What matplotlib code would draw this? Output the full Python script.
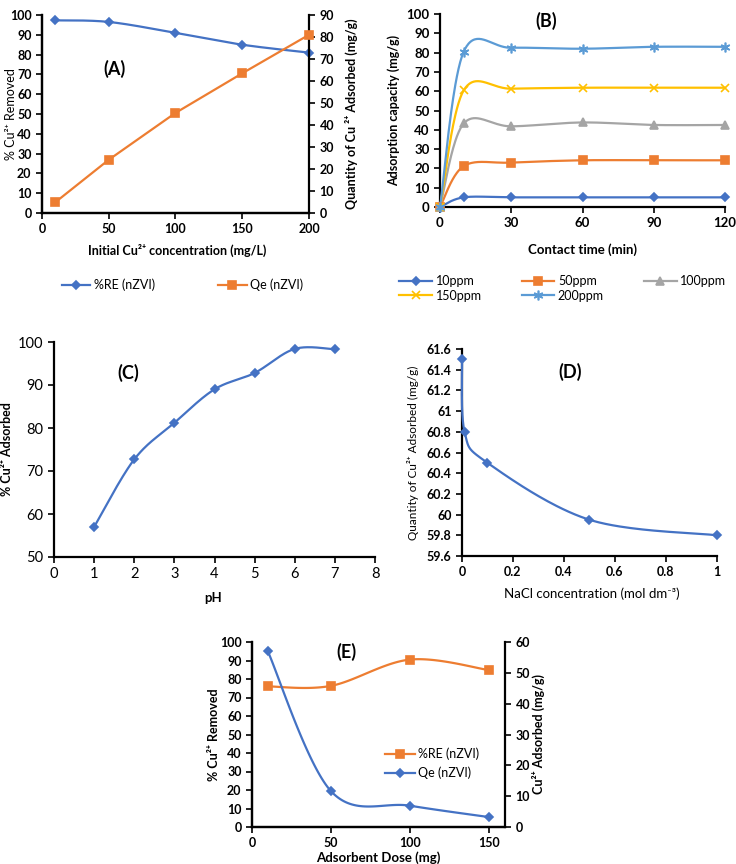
import matplotlib

matplotlib.use("Agg")
import matplotlib.pyplot as plt
import numpy as np
from matplotlib.lines import Line2D
from matplotlib.ticker import FuncFormatter

plt.rcParams["font.family"] = ["Lato", "DejaVu Sans"]
plt.rcParams["axes.linewidth"] = 1.6

BLUE = "#4472C4"
ORANGE = "#ED7D31"
GRAY = "#A5A5A5"
YELLOW = "#FFC000"
LIGHT_BLUE = "#5B9BD5"

# (A) effect of initial concentration
A_CONC = [10, 50, 100, 150, 200]
A_REMOVAL = [97.3, 96.5, 91.0, 85.0, 81.0]
A_QE = [4.9, 24.2, 45.5, 63.5, 81.0]

# (B) contact time
B_TIME = [0, 10, 30, 60, 90, 120]
B_10PPM = [0, 5.0, 5.0, 5.0, 5.0, 5.0]
B_50PPM = [0, 21.2, 23.0, 24.2, 24.2, 24.2]
B_100PPM = [0, 43.3, 41.8, 43.8, 42.5, 42.5]
B_150PPM = [0, 60.5, 61.3, 61.8, 61.8, 61.8]
B_200PPM = [0, 80.5, 82.5, 82.0, 83.0, 83.0]
B_LABELS = ["10ppm", "50ppm", "100ppm", "150ppm", "200ppm"]

# (C) pH
C_PH = [1, 2, 3, 4, 5, 6, 7]
C_ADSORBED = [57.0, 72.7, 81.2, 89.0, 92.8, 98.4, 98.3]

# (D) ionic strength
D_NACL = [0, 0.01, 0.1, 0.5, 1.0]
D_QE = [61.5, 60.8, 60.5, 59.95, 59.8]

# (E) adsorbent dose
E_DOSE = [10, 50, 100, 150]
E_REMOVAL = [76.0, 76.3, 90.5, 84.8]
E_QE = [57.0, 11.6, 6.9, 3.2]

W, H = 736, 864
fig = plt.figure(figsize=(W / 100, H / 100), dpi=100)


def add_axes_px(left, top, right, bottom):
    return fig.add_axes([left / W, 1 - bottom / H, (right - left) / W, (bottom - top) / H])


def smooth_curve(ax, x, y, n=40):
    # Excel-like smoothed line: bezier through points, computed in screen space
    pts = ax.transData.transform(np.column_stack([x, y]))
    m = len(pts)
    out = [pts[0]]
    t = np.linspace(0, 1, n)[1:, None]
    for i in range(m - 1):
        p0 = pts[i - 1] if i > 0 else pts[i]
        p1, p2 = pts[i], pts[i + 1]
        p3 = pts[i + 2] if i + 2 < m else pts[i + 1]
        c1 = p1 + (p2 - p0) / 6
        c2 = p2 - (p3 - p1) / 6
        seg = (1 - t) ** 3 * p1 + 3 * (1 - t) ** 2 * t * c1 + 3 * (1 - t) * t ** 2 * c2 + t ** 3 * p2
        out.extend(seg)
    xy = ax.transData.inverted().transform(np.array(out))
    return xy[:, 0], xy[:, 1]


def plot_series(ax, x, y, color, marker, ms=5, smooth=True):
    if smooth:
        sx, sy = smooth_curve(ax, x, y)
    else:
        sx, sy = x, y
    ax.plot(sx, sy, color=color, lw=1.6, zorder=3, clip_on=False)
    ax.plot(x, y, ls="none", marker=marker, ms=ms, color=color, mec=color, mew=1.2,
            zorder=4, clip_on=False)


def style_axes(ax, bold=True, size=9):
    for side in ["top", "right"]:
        ax.spines[side].set_visible(False)
    ax.tick_params(direction="out", length=4, width=1.2, labelsize=size)
    weight = "bold" if bold else "normal"
    for lab in ax.get_xticklabels() + ax.get_yticklabels():
        lab.set_fontweight(weight)


def style_right_axis(ax, size=9):
    ax.spines["right"].set_linewidth(1.6)
    ax.spines["top"].set_visible(False)
    ax.tick_params(direction="out", length=4, width=1.2, labelsize=size)
    for lab in ax.get_yticklabels():
        lab.set_fontweight("bold")


def legend_handle(color, marker, ms=5):
    return Line2D([], [], color=color, lw=1.6, marker=marker, ms=ms, mec=color, mew=1.2)


# ---------------- (A) ----------------
axA = add_axes_px(42, 15, 309, 213)
axA.set_xlim(0, 200)
axA.set_ylim(0, 100)
axA.set_xticks(np.arange(0, 201, 50))
axA.set_yticks(np.arange(0, 101, 10))
style_axes(axA, size=9)
axA2 = axA.twinx()
axA2.set_ylim(0, 90)
axA2.set_yticks(np.arange(0, 91, 10))
style_right_axis(axA2, size=9)
plot_series(axA, A_CONC, A_REMOVAL, BLUE, "D", ms=4.5)
plot_series(axA2, A_CONC, A_QE, ORANGE, "s", ms=6, smooth=False)
axA.set_ylabel("% Cu²⁺ Removed", fontsize=9)
axA.yaxis.set_label_coords(-0.094, 0.5)
axA2.set_ylabel("Quantity of Cu ²⁺ Adsorbed (mg/g)", fontsize=9, fontweight="bold")
axA2.yaxis.set_label_coords(1.135, 0.5)
axA.set_xlabel("Initial Cu²⁺ concentration (mg/L)", fontsize=9, fontweight="bold")
axA.xaxis.set_label_coords(0.505, -0.157)
axA.text(0.27, 0.73, "(A)", transform=axA.transAxes, fontsize=13, fontweight="bold",
         ha="center", va="center")
fig.legend([legend_handle(BLUE, "D", 4.5), legend_handle(ORANGE, "s", 6)],
           ["%RE (nZVI)", "Qe (nZVI)"], loc="center", bbox_to_anchor=(0.248, 1 - 285 / H),
           ncol=2, frameon=False, fontsize=9, handlelength=2.3, columnspacing=5.0,
           handletextpad=0.3)

# ---------------- (B) ----------------
axB = add_axes_px(440, 14, 725, 207)
axB.set_xlim(0, 120)
axB.set_ylim(0, 100)
axB.set_xticks(np.arange(0, 121, 30))
axB.set_yticks(np.arange(0, 101, 10))
style_axes(axB, size=9.5)
b_series = [B_10PPM, B_50PPM, B_100PPM, B_150PPM, B_200PPM]
b_colors = [BLUE, ORANGE, GRAY, YELLOW, LIGHT_BLUE]
b_markers = ["D", "s", "^", "x", (6, 2, 0)]
b_ms = [4.5, 6, 6, 6, 7]
for vals, col, mk, ms in zip(b_series, b_colors, b_markers, b_ms):
    plot_series(axB, B_TIME, vals, col, mk, ms=ms)
axB.set_ylabel("Adsorption capacity (mg/g)", fontsize=9, fontweight="bold")
axB.yaxis.set_label_coords(-0.14, 0.5)
axB.set_xlabel("Contact time (min)", fontsize=9.5, fontweight="bold")
axB.xaxis.set_label_coords(0.5, -0.187)
axB.text(0.372, 0.962, "(B)", transform=axB.transAxes, fontsize=13, fontweight="bold",
         ha="center", va="center")
handles = [legend_handle(c, m, s) for c, m, s in zip(b_colors, b_markers, b_ms)]
order = [0, 3, 1, 4, 2]
fig.legend([handles[i] for i in order], [B_LABELS[i] for i in order], loc="upper left",
           bbox_to_anchor=(388 / W, 1 - 264 / H), ncol=3, frameon=False, fontsize=9,
           handlelength=2.6, columnspacing=3.2, handletextpad=0.3, labelspacing=0.2)

# ---------------- (C) ----------------
axC = add_axes_px(54, 342, 375, 557)
axC.set_xlim(0, 8)
axC.set_ylim(50, 100)
axC.set_xticks(np.arange(0, 9, 1))
axC.set_yticks(np.arange(50, 101, 10))
style_axes(axC, bold=False, size=10.5)
plot_series(axC, C_PH, C_ADSORBED, BLUE, "D", ms=4.5)
axC.set_ylabel("% Cu²⁺ Adsorbed", fontsize=9, fontweight="bold")
axC.yaxis.set_label_coords(-0.128, 0.5)
axC.set_xlabel("pH", fontsize=9.5, fontweight="bold")
axC.xaxis.set_label_coords(0.495, -0.163)
axC.text(0.23, 0.855, "(C)", transform=axC.transAxes, fontsize=13, fontweight="bold",
         ha="center", va="center")

# ---------------- (D) ----------------
axD = add_axes_px(462, 349, 717, 556)
axD.set_xlim(0, 1)
axD.set_ylim(59.6, 61.6)
axD.set_xticks(np.arange(0, 1.01, 0.2))
axD.set_yticks(np.arange(59.6, 61.61, 0.2))
axD.xaxis.set_major_formatter(FuncFormatter(lambda v, p: f"{v:g}"))
axD.yaxis.set_major_formatter(FuncFormatter(lambda v, p: f"{round(v, 1):g}"))
style_axes(axD, size=9)
plot_series(axD, D_NACL, D_QE, BLUE, "D", ms=4.5)
axD.set_ylabel("Quantity of Cu²⁺ Adsorbed (mg/g)", fontsize=8.5)
axD.yaxis.set_label_coords(-0.167, 0.5)
axD.set_xlabel("NaCl concentration (mol dm⁻³)", fontsize=9.5)
axD.xaxis.set_label_coords(0.51, -0.15)
axD.text(0.425, 0.889, "(D)", transform=axD.transAxes, fontsize=13, fontweight="bold",
         ha="center", va="center")

# ---------------- (E) ----------------
axE = add_axes_px(252, 642, 505, 827)
axE.set_xlim(0, 160)
axE.set_ylim(0, 100)
axE.set_xticks(np.arange(0, 151, 50))
axE.set_yticks(np.arange(0, 101, 10))
style_axes(axE, size=9)
axE2 = axE.twinx()
axE2.set_ylim(0, 60)
axE2.set_yticks(np.arange(0, 61, 10))
style_right_axis(axE2, size=9)
plot_series(axE, E_DOSE, E_REMOVAL, ORANGE, "s", ms=6)
plot_series(axE2, E_DOSE, E_QE, BLUE, "D", ms=4.5)
axE.set_ylabel("% Cu²⁺ Removed", fontsize=9, fontweight="bold")
axE.yaxis.set_label_coords(-0.126, 0.5)
axE2.set_ylabel("Cu²⁺ Adsorbed (mg/g)", fontsize=9, fontweight="bold")
axE2.yaxis.set_label_coords(1.107, 0.5)
axE.set_xlabel("Adsorbent Dose (mg)", fontsize=9.5, fontweight="bold")
axE.xaxis.set_label_coords(0.498, -0.131)
axE.text(0.375, 0.944, "(E)", transform=axE.transAxes, fontsize=13, fontweight="bold",
         ha="center", va="center")
axE.legend([legend_handle(ORANGE, "s", 6), legend_handle(BLUE, "D", 4.5)],
           ["%RE (nZVI)", "Qe (nZVI)"], loc="upper left", bbox_to_anchor=(0.48, 0.49),
           frameon=False, fontsize=9, handlelength=2.4, handletextpad=0.3,
           labelspacing=0.5)

fig.savefig("out.png", dpi=100)
